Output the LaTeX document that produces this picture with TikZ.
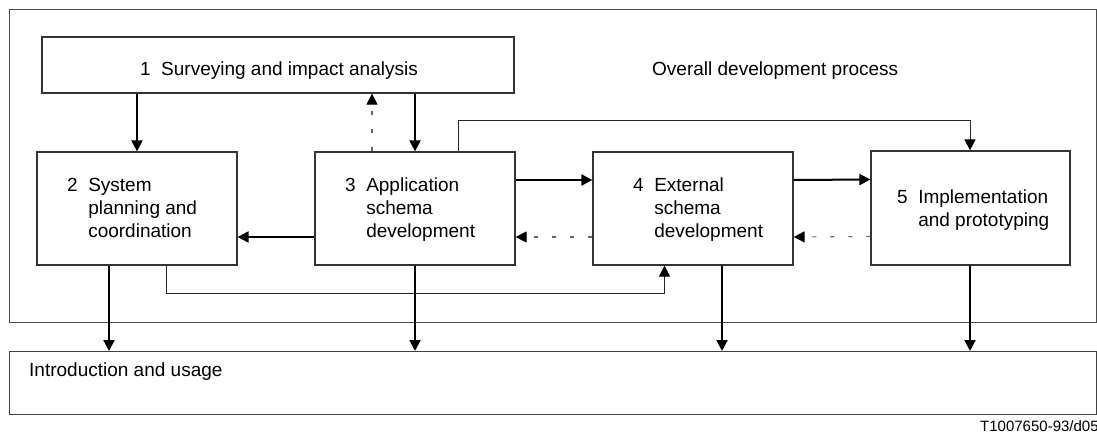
\documentclass[tikz,border=0pt]{standalone}
\usepackage{fontspec}
\setmainfont{Liberation Sans}
\usetikzlibrary{arrows.meta,calc}
\begin{document}
\begin{tikzpicture}[x=1pt,y=-1pt,
  font=\fontsize{19}{23}\selectfont,
  box/.style={draw=black!80,line width=1.2pt,rectangle,inner sep=0pt},
  frame/.style={draw=black!70,line width=1pt},
  txt/.style={inner sep=0pt,align=left},
  tip/.style={-{Triangle[length=11pt,width=11pt,color=black,fill=black]}},
  arr/.style={tip,line width=2pt,black},
  thinarr/.style={tip,line width=1pt,black!85},
  dasharr/.style={tip,line width=1.2pt,black!60,dash pattern=on 4pt off 14pt}]
\useasboundingbox (0,0) rectangle (1097,436);
% outer frame
\node[frame,rectangle,minimum width=1087pt,minimum height=313pt,anchor=north west,inner sep=0pt] (outer) at (9,9) {};
\node[txt,anchor=base west] (overall) at (652,75) {Overall development process};
% boxes
\node[box,minimum width=472pt,minimum height=56pt] (b1) at (278,65) {};
\node[box,minimum width=200pt,minimum height=113pt] (b2) at (137,208.5) {};
\node[box,minimum width=200pt,minimum height=113pt] (b3) at (415,208.5) {};
\node[box,minimum width=200pt,minimum height=113pt] (b4) at (693,208.5) {};
\node[box,minimum width=199pt,minimum height=114pt] (b5) at (970.5,208) {};
\node[box,draw=black!75,minimum width=1087pt,minimum height=63pt,anchor=north west] (bot) at (9,351) {};
% texts
\node[txt,anchor=base] (t1) at (279,75) {1\hspace{10.5pt}Surveying and impact analysis};
\node[txt,anchor=west] (t2) at (67,210) {\begin{tabular}{@{}l@{\hspace{10.5pt}}l@{}}2&System\\&planning and\\&coordination\end{tabular}};
\node[txt,anchor=west] (t3) at (345,210) {\begin{tabular}{@{}l@{\hspace{10.5pt}}l@{}}3&Application\\&schema\\&development\end{tabular}};
\node[txt,anchor=west] (t4) at (633,210) {\begin{tabular}{@{}l@{\hspace{10.5pt}}l@{}}4&External\\&schema\\&development\end{tabular}};
\node[txt,anchor=west] (t5) at (897,210) {\begin{tabular}{@{}l@{\hspace{10.5pt}}l@{}}5&Implementation\\&and prototyping\end{tabular}};
\node[txt,anchor=base west] (tb) at (29,376) {Introduction and usage};
\node[txt,anchor=base west,font=\fontsize{15}{18}\selectfont] (ref) at (980,431) {T1007650-93/d05};
% solid arrows
\draw[arr] (b1.south -| b2.north) -- (b2.north);
\draw[arr] (b1.south -| b3.north) -- (b3.north);
\draw[arr] ([yshift=-28.5pt]b3.west) -- ([yshift=-28.5pt]b2.east);
\draw[arr] ([yshift=28.5pt]b3.east) -- ([yshift=28.5pt]b4.west);
\draw[arr] ([yshift=28.5pt]b4.east) -- ([yshift=28.5pt]b5.west);
% dashed feedback arrows
\draw[dasharr] ([xshift=-43pt]b3.north) -- ([xshift=-43pt]b3.north |- b1.south);
\draw[dasharr] ([yshift=-28.5pt]b4.west) -- ([yshift=-28.5pt]b3.east);
\draw[dasharr] ([yshift=-28.5pt]b5.west) -- ([yshift=-28.5pt]b4.east);
% thin bypass connectors
\draw[thinarr] ([xshift=43.5pt]b3.north) |- ([xshift=-0.5pt,yshift=30pt]b5.north) -- ([xshift=-0.5pt]b5.north);
\draw[thinarr] ([xshift=29.5pt]b2.south) |- ([xshift=-28.5pt,yshift=-28pt]b4.south) -- ([xshift=-28.5pt]b4.south);
% down arrows to introduction and usage
\draw[arr] ([xshift=-28pt]b2.south) -- ([xshift=-28pt]b2.south |- bot.north);
\draw[arr] (b3.south) -- (b3.south |- bot.north);
\draw[arr] ([xshift=29pt]b4.south) -- ([xshift=29pt]b4.south |- bot.north);
\draw[arr] ([xshift=-0.5pt]b5.south) -- ([xshift=-0.5pt]b5.south |- bot.north);
\end{tikzpicture}
\end{document}
